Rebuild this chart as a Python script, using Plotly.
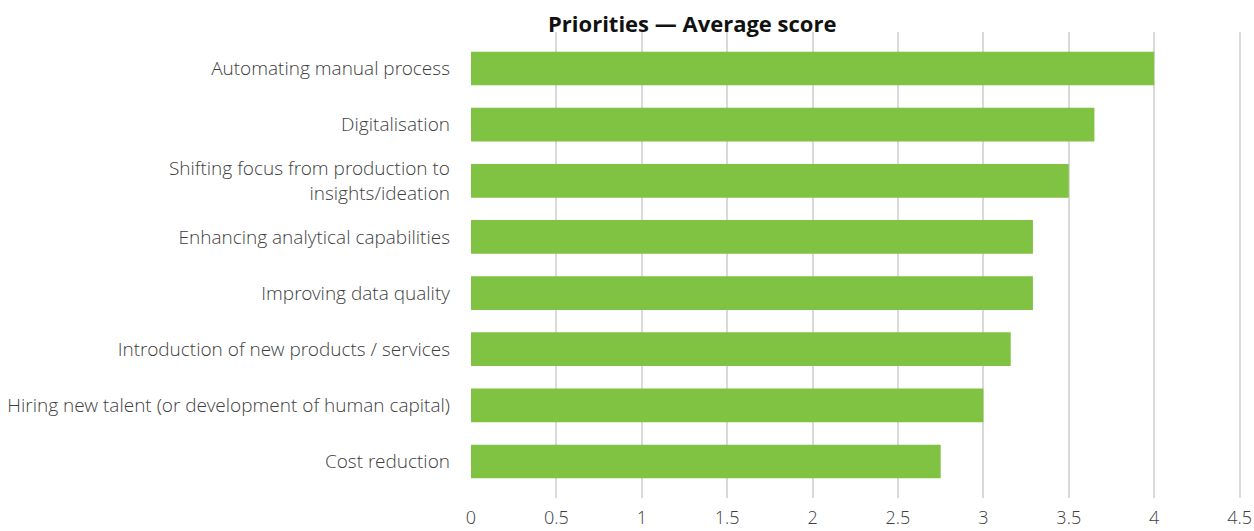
import plotly.graph_objects as go

categories = [
    "Automating manual process",
    "Digitalisation",
    "Shifting focus from production to<br>insights/ideation",
    "Enhancing analytical capabilities",
    "Improving data quality",
    "Introduction of new products / services",
    "Hiring new talent (or development of human capital)",
    "Cost reduction",
]
scores = [4.0, 3.65, 3.5, 3.29, 3.29, 3.16, 3.0, 2.75]
x_ticks = [0, 0.5, 1, 1.5, 2, 2.5, 3, 3.5, 4, 4.5]
x_tick_labels = ["0", "0.5", "1", "1.5", "2", "2.5", "3", "3.5", "4", "4.5"]

BAR_GREEN = "#80C242"
TEXT_GREY = "#404040"
FONT = "Open Sans Light, Open Sans"

W, H = 1254, 531
M_L, M_R, M_T, M_B = 471, 11, 32, 33

fig = go.Figure(
    go.Bar(
        x=scores,
        y=categories,
        orientation="h",
        marker=dict(color=BAR_GREEN, line=dict(width=0)),
        width=0.6,
        hoverinfo="x+y",
    )
)

fig.update_layout(
    width=W,
    height=H,
    margin=dict(l=M_L, r=M_R, t=M_T, b=M_B, autoexpand=False),
    paper_bgcolor="white",
    plot_bgcolor="white",
    showlegend=False,
    font=dict(family=FONT, size=19, color=TEXT_GREY, weight=300),
    annotations=[
        dict(
            text="<b>Priorities — Average score</b>",
            x=(692 - M_L) / (W - M_L - M_R),
            y=1 + (M_T - 23) / (H - M_T - M_B),
            xref="paper", yref="paper",
            xanchor="center", yanchor="middle",
            showarrow=False,
            font=dict(family="Open Sans", size=22, color="#111111", weight=700),
        )
    ],
)

fig.update_xaxes(
    range=[0, 4.52],
    tickvals=x_ticks,
    ticktext=x_tick_labels,
    showgrid=True,
    gridcolor="#D9D9D9",
    gridwidth=1.5,
    zeroline=False,
    showline=False,
    ticks="",
    automargin=False,
    tickfont=dict(family=FONT, size=18, color=TEXT_GREY, weight=300),
    ticklabelstandoff=7,
    fixedrange=True,
)
fig.update_yaxes(
    categoryorder="array",
    categoryarray=categories,
    range=[7.65, -0.65],
    showgrid=False,
    zeroline=False,
    showline=False,
    ticks="",
    automargin=False,
    tickfont=dict(family=FONT, size=19, color=TEXT_GREY, weight=300),
    ticklabelstandoff=20,
    fixedrange=True,
)

fig.write_html("out.html")
